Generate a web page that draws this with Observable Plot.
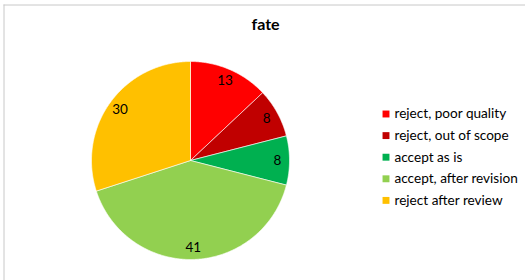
<!DOCTYPE html>
<html>
<head>
<meta charset="utf-8">
<script src="https://cdn.jsdelivr.net/npm/d3@7"></script>
<script src="https://cdn.jsdelivr.net/npm/@observablehq/plot@0.6"></script>
<style>
  html, body { margin: 0; padding: 0; background: #fff; }
  #chart { width: 525px; height: 280px; overflow: hidden; }
</style>
</head>
<body>
<div id="chart"></div>
<script>
// ---- data ----
const title = "fate";
const categories = ["reject, poor quality", "reject, out of scope", "accept as is", "accept, after revision", "reject after review"];
const values = [13, 8, 8, 41, 30];
const colors = ["#FF0000", "#C00000", "#00B050", "#92D050", "#FFC000"];

// ---- layout (pixel space) ----
const W = 525, H = 280;
const cx = 190, cy = 160, R = 99, labelR = 87;
const legendX = 385.5, legendY0 = 113.5, legendStep = 21.6, legendTextX = 394;

const arcs = d3.pie().sort(null).value(d => d)(values);
const pt = (a, r) => ({x: cx + r * Math.sin(a), y: cy - r * Math.cos(a)});

const slicePts = [];
arcs.forEach((a, i) => {
  const key = categories[i];
  slicePts.push({key, ...pt(0, 0)});
  const n = Math.max(8, Math.ceil((a.endAngle - a.startAngle) / 0.01));
  for (let k = 0; k <= n; k++) {
    const ang = a.startAngle + (a.endAngle - a.startAngle) * k / n;
    slicePts.push({key, ...pt(ang, R)});
  }
  slicePts.push({key, ...pt(0, 0)});
});

const labels = arcs.map((a, i) => ({
  text: String(values[i]),
  ...pt((a.startAngle + a.endAngle) / 2, labelR)
}));

const legend = categories.map((c, i) => ({key: c, x: legendX, y: legendY0 + i * legendStep}));

const chart = Plot.plot({
  width: W, height: H,
  margin: 0,
  style: {fontFamily: "Lato, 'Open Sans', sans-serif", fontSize: "12px", background: "#fff", color: "#000"},
  x: {domain: [0, W], range: [0, W], axis: null},
  y: {domain: [0, H], range: [0, H], axis: null},
  color: {domain: categories, range: colors},
  marks: [
    Plot.ruleY([4.5], {x1: 3.5, x2: W, stroke: "#c8c8c8", strokeWidth: 1}),
    Plot.ruleX([3.5], {y1: 4.5, y2: H, stroke: "#c8c8c8", strokeWidth: 1}),
    Plot.line(slicePts, {x: "x", y: "y", z: "key", fill: "key", stroke: "#fff", strokeWidth: 0.6, curve: "linear"}),
    Plot.text(labels, {x: "x", y: "y", text: "text", fontSize: 13.5, fill: "#000"}),
    Plot.text([title], {x: [265], y: [24], text: d => d, fontWeight: "bold", fontSize: 16, fill: "#000"}),
    Plot.dot(legend, {x: "x", y: "y", fill: "key", symbol: "square", r: 3.9, stroke: null}),
    Plot.text(legend, {x: legendTextX, y: "y", text: "key", textAnchor: "start", fontSize: 13.6, fill: "#000"})
  ]
});
document.getElementById("chart").appendChild(chart);
</script>
</body>
</html>
